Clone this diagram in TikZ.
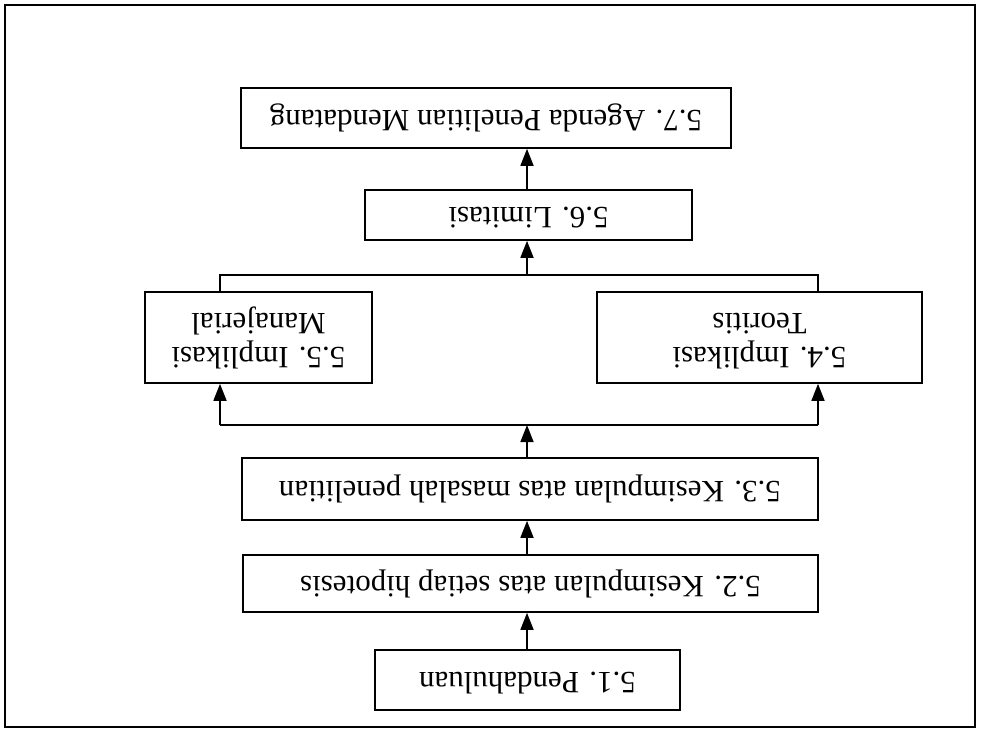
\documentclass[tikz,border=0pt]{standalone}
\usepackage{fontspec}
\usepackage{graphicx}
\setmainfont{Liberation Serif}
\usetikzlibrary{arrows.meta}
\newcommand{\upd}[1]{\rotatebox{180}{\begin{tabular}{@{}c@{}}#1\end{tabular}}}
\tikzset{
  box/.style={draw=black, line width=1.6pt, rectangle, inner sep=0pt, font=\fontsize{31}{36}\selectfont},
  conn/.style={draw=black, line width=1.6pt},
  arr/.style={conn, -{Triangle[length=17pt,width=13pt]}}
}
\begin{document}
\begin{tikzpicture}[x=1pt,y=-1pt]
\useasboundingbox (0,0) rectangle (981,731);
\draw[line width=2.2pt] (5,5) rectangle (975,727);
\node[box, minimum width=305pt, minimum height=60pt] (n51) at (527.5,680) {\upd{5.1. Pendahuluan}};
\node[box, minimum width=575pt, minimum height=57pt] (n52) at (530.5,583.5) {\upd{5.2. Kesimpulan atas setiap hipotesis}};
\node[box, minimum width=576pt, minimum height=62pt] (n53) at (530,489) {\upd{5.3. Kesimpulan atas masalah penelitian}};
\node[box, minimum width=227pt, minimum height=91pt] (n55) at (258.5,337.5) {\upd{5.5. Implikasi\\[-2pt]Manajerial}};
\node[box, minimum width=325pt, minimum height=91pt] (n54) at (759.5,337.5) {\upd{5.4. Implikasi\\[-2pt]Teoritis}};
\node[box, minimum width=327pt, minimum height=50pt] (n56) at (528.5,215) {\upd{5.6. Limitasi}};
\node[box, minimum width=490pt, minimum height=60pt] (n57) at (486,118) {\upd{5.7. Agenda Penelitian Mendatang}};
\coordinate (lowC) at (527,425);
\coordinate (lowL) at (220,425);
\coordinate (lowR) at (818,425);
\coordinate (upC) at (527,275);
\coordinate (upL) at (220,275);
\coordinate (upR) at (818,275);
\coordinate (c51) at (527,650);
\draw[arr] (c51) -- (c51 |- n52.south);
\draw[arr] (c51 |- n52.north) -- (c51 |- n53.south);
\draw[arr] (c51 |- n53.north) -- (lowC);
\draw[conn] (lowL) -- (lowR);
\draw[arr] (lowL) -- (lowL |- n55.south);
\draw[arr] (lowR) -- (lowR |- n54.south);
\draw[conn] (upL |- n55.north) -- (upL) -- (upR) -- (upR |- n54.north);
\draw[arr] (upC) -- (upC |- n56.south);
\draw[arr] (upC |- n56.north) -- (upC |- n57.south);
\end{tikzpicture}
\end{document}
